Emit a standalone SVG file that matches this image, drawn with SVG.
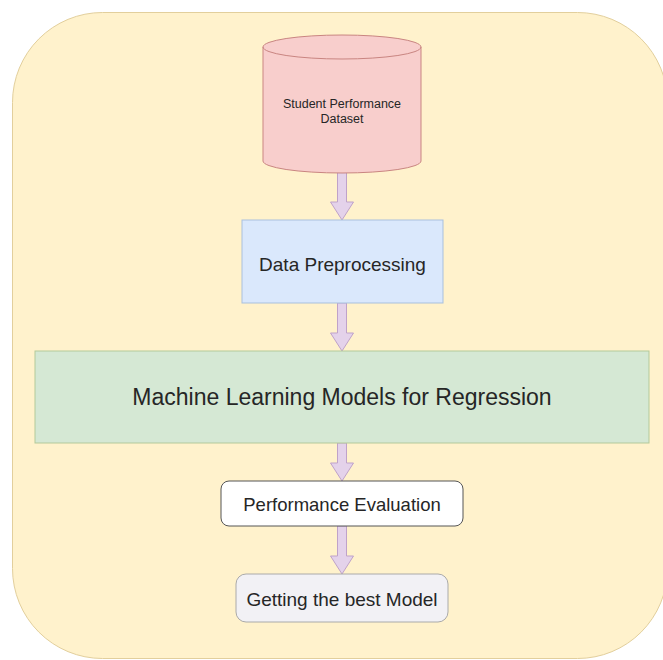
<svg xmlns="http://www.w3.org/2000/svg" width="663" height="660" viewBox="0 0 663 660">
  <style>
    .lbl { font-family: "Liberation Sans", Arial, sans-serif; fill: #262626; text-anchor: middle; dominant-baseline: central; }
    .flow { fill: #e4d2ea; stroke: #bfa2c9; stroke-width: 1; }
  </style>

  <!-- container -->
  <rect id="container" x="12.5" y="12.5" width="655" height="646" rx="90" ry="90" fill="#fff2cc" stroke="#e2cf9c" stroke-width="1"/>

  <!-- connectors: block arrows between stages -->
  <g id="connectors">
    <path class="flow" d="M337.5,172 H346.5 V202 H353.5 L342,220 L330.5,202 H337.5 Z"/>
    <path class="flow" d="M337.5,303 H346.5 V333 H353.5 L342,351 L330.5,333 H337.5 Z"/>
    <path class="flow" d="M337.5,443 H346.5 V463 H353.5 L342,481 L330.5,463 H337.5 Z"/>
    <path class="flow" d="M337.5,526 H346.5 V556 H353.5 L342,574 L330.5,556 H337.5 Z"/>
  </g>

  <!-- dataset cylinder -->
  <g id="dataset">
    <path d="M263,47 A79,12 0 0 1 421,47 V161 A79,12 0 0 1 263,161 Z" fill="#f8cecc" stroke="#c98581" stroke-width="1"/>
    <path d="M263,47 A79,12 0 0 0 421,47" fill="none" stroke="#c98581" stroke-width="1"/>
    <text class="lbl" x="342" y="104" font-size="12.5">Student Performance</text>
    <text class="lbl" x="342" y="118.5" font-size="12.5">Dataset</text>
  </g>

  <g id="preprocessing">
    <rect x="242" y="220" width="201" height="83" fill="#dae8fc" stroke="#a9c0dd" stroke-width="1"/>
    <text class="lbl" x="342.5" y="264" font-size="19">Data Preprocessing</text>
  </g>

  <g id="models">
    <rect x="35" y="351" width="614" height="92" fill="#d5e8d4" stroke="#b3c99a" stroke-width="1"/>
    <text class="lbl" x="342" y="397" font-size="23">Machine Learning Models for Regression</text>
  </g>

  <g id="evaluation">
    <rect x="221" y="481" width="242" height="45" rx="8" ry="8" fill="#ffffff" stroke="#555555" stroke-width="1"/>
    <text class="lbl" x="342" y="504" font-size="18.5">Performance Evaluation</text>
  </g>

  <g id="best-model">
    <rect x="236" y="574" width="212" height="48" rx="10" ry="10" fill="#f2f1f5" stroke="#aaaaaa" stroke-width="1"/>
    <text class="lbl" x="342" y="599" font-size="19">Getting the best Model</text>
  </g>
</svg>
